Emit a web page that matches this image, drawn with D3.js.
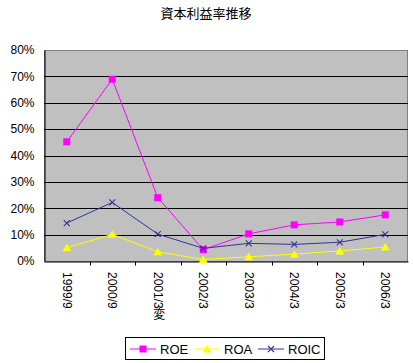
<!DOCTYPE html>
<html>
<head>
<meta charset="utf-8">
<script src="https://cdn.jsdelivr.net/npm/d3@7"></script>
<style>
  body { margin: 0; background: #fff; }
  text { font-family: "Liberation Sans", Arial, "Noto Sans CJK JP", sans-serif; }
</style>
</head>
<body>
<script>
    // chart data
    var categories = ["1999/9", "2000/9", "2001/3変", "2002/3", "2003/3", "2004/3", "2005/3", "2006/3"];
    var roe  = [0.452, 0.689, 0.240, 0.043, 0.103, 0.137, 0.148, 0.175];
    var roa  = [0.050, 0.101, 0.035, 0.006, 0.016, 0.026, 0.038, 0.053];
    var roic = [0.144, 0.222, 0.102, 0.048, 0.067, 0.063, 0.071, 0.101];
    var yTicks = [0, 0.1, 0.2, 0.3, 0.4, 0.5, 0.6, 0.7, 0.8];

    var width = 413, height = 363;
    // plot area (note: "top" is taken by window.top)
    var plotLeft = 44, plotRight = 408, plotTop = 50, plotBottom = 261;

    var svg = d3.select("body").append("svg")
        .attr("width", width)
        .attr("height", height);

    // title
    svg.append("text")
        .attr("x", 206).attr("y", 18)
        .attr("text-anchor", "middle")
        .style("font-family", "'Noto Sans CJK JP', sans-serif")
        .style("font-size", "13px")
        .text("資本利益率推移");

    var x = d3.scaleBand().domain(categories).range([plotLeft, plotRight]);
    var y = d3.scaleLinear().domain([0, 0.8]).range([plotBottom, plotTop]);

    // grey plot background
    svg.append("rect")
        .attr("x", plotLeft + 0.5).attr("y", plotTop + 0.5)
        .attr("width", plotRight - plotLeft - 1).attr("height", plotBottom - plotTop)
        .attr("fill", "#c0c0c0")
        .attr("stroke", "#808080");

    // gridlines
    svg.append("g").selectAll("line")
        .data(yTicks.slice(1, -1))
        .join("line")
        .attr("x1", plotLeft).attr("x2", plotRight)
        .attr("y1", d => Math.round(y(d)) + 0.5).attr("y2", d => Math.round(y(d)) + 0.5)
        .attr("stroke", "#000");

    // y axis
    var yAxis = d3.axisLeft(y)
        .tickValues(yTicks)
        .tickFormat(d3.format(".0%"))
        .tickSize(0)
        .tickPadding(10);
    var yg = svg.append("g").attr("transform", "translate(" + (plotLeft + 0.5) + ",0)").call(yAxis);
    yg.select(".domain").attr("stroke", "#000");
    yg.selectAll("text").style("font-size", "12px").attr("fill", "#000");

    // x axis
    var xAxis = d3.axisBottom(x).tickSize(0).tickFormat("");
    var xg = svg.append("g").attr("transform", "translate(0," + (plotBottom + 0.5) + ")").call(xAxis);
    xg.select(".domain").attr("stroke", "#000");
    // tick marks at band edges
    xg.selectAll("line.edge")
        .data(categories.slice(1))
        .join("line")
        .attr("class", "edge")
        .attr("x1", d => Math.round(x(d)) + 0.5).attr("x2", d => Math.round(x(d)) + 0.5)
        .attr("y1", 0).attr("y2", 4)
        .attr("stroke", "#000");

    // vertical category labels
    svg.append("g").selectAll("text")
        .data(categories)
        .join("text")
        .attr("x", d => x(d) + x.bandwidth() / 2)
        .attr("y", 272)
        .style("writing-mode", "vertical-rl")
        .style("font-size", "12px")
        .text(d => d);

    var series = [
        { name: "ROE",  values: roe,  color: "#ff00ff", marker: "square" },
        { name: "ROA",  values: roa,  color: "#ffff00", marker: "triangle" },
        { name: "ROIC", values: roic, color: "#333399", marker: "x" }
    ];

    var line = d3.line()
        .x((d, i) => x(categories[i]) + x.bandwidth() / 2)
        .y(d => y(d));

    function drawMarker(g, type, color) {
        if (type == "square") {
            g.append("rect").attr("x", -3.5).attr("y", -3.5).attr("width", 7).attr("height", 7).attr("fill", color);
        } else if (type == "triangle") {
            g.append("path").attr("d", "M0,-4L4.5,3.5L-4.5,3.5Z").attr("fill", color);
        } else {
            g.append("path").attr("d", "M-3,-3L3,3M-3,3L3,-3").attr("stroke", color).attr("stroke-width", 1.1);
        }
    }

    series.forEach(function (s) {
        svg.append("path")
            .datum(s.values)
            .attr("d", line)
            .attr("fill", "none")
            .attr("stroke", s.color)
            .attr("stroke-width", 1);
        s.values.forEach(function (v, i) {
            var g = svg.append("g")
                .attr("transform", "translate(" + (x(categories[i]) + x.bandwidth() / 2) + "," + y(v) + ")");
            drawMarker(g, s.marker, s.color);
        });
    });

    // legend
    var legend = svg.append("g");
    legend.append("rect")
        .attr("x", 125.5).attr("y", 337.5).attr("width", 199).attr("height", 22)
        .attr("fill", "#fff").attr("stroke", "#000");
    var legendX = [130, 194, 258];
    series.forEach(function (s, i) {
        var lg = legend.append("g").attr("transform", "translate(" + legendX[i] + ",349)");
        lg.append("line").attr("x1", 0).attr("x2", 26).attr("y1", 0).attr("y2", 0)
            .attr("stroke", s.color).attr("stroke-width", 1);
        var m = lg.append("g").attr("transform", "translate(13,0)");
        drawMarker(m, s.marker, s.color);
        lg.append("text").attr("x", 30).attr("y", 5)
            .style("font-size", "13px")
            .text(s.name);
    });
</script>
</body>
</html>
